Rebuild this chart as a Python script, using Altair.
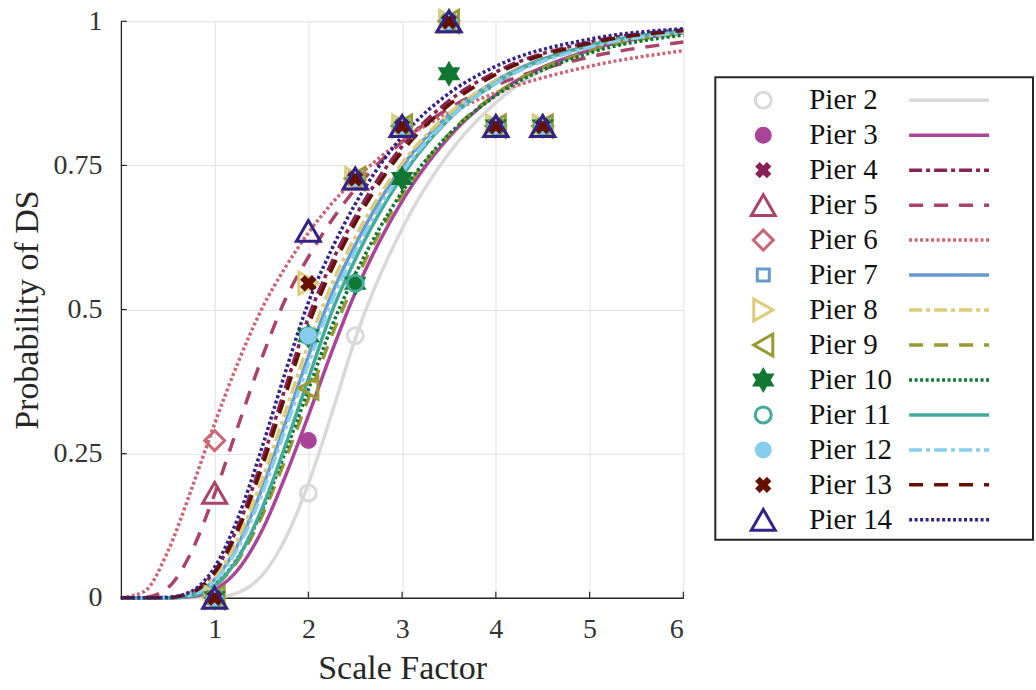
import altair as alt
import pandas as pd

PIERS = [f"Pier {i}" for i in range(2, 15)]
COLORS = ["#d9d9d9", "#aa4499", "#882255", "#aa4466", "#cc6677", "#6699cc",
          "#ddcc77", "#999933", "#117733", "#44aa99", "#88ccee", "#661100", "#332288"]

HEXAGRAM = "M0,-1L0.289,-0.5L0.866,-0.5L0.577,0L0.866,0.5L0.289,0.5L0,1L-0.289,0.5L-0.866,0.5L-0.577,0L-0.866,-0.5L-0.289,-0.5Z"
XMARK = "M-1,-0.6L-0.6,-1L0,-0.4L0.6,-1L1,-0.6L0.4,0L1,0.6L0.6,1L0,0.4L-0.6,1L-1,0.6L-0.4,0Z"
SHAPES = ["circle", "circle", XMARK, "triangle-up", "diamond", "square", "triangle-right",
          "triangle-left", HEXAGRAM, "circle", "circle", XMARK, "triangle-up"]
SIZES = [256, 196, 144, 576, 400, 144, 484, 484, 400, 256, 196, 144, 576]
FILLS = ["transparent", "#aa4499", "#882255", "transparent", "transparent", "transparent",
         "transparent", "transparent", "#117733", "transparent", "#88ccee", "#661100", "transparent"]
SOLID = [1, 0]
DASHDOT = [13, 4, 4, 4]
DASHED = [14, 11]
DOTTED = [3, 2.5]
DASHES = [SOLID, SOLID, DASHDOT, DASHED, DOTTED, SOLID, DASHDOT, DASHED, DOTTED,
          SOLID, DASHDOT, DASHED, DOTTED]

# fragility curves
SF_GRID = [0, 0.25, 0.5, 0.75, 1, 1.25, 1.5, 1.75, 2, 2.25, 2.5, 3, 3.5, 4, 5, 6]
CURVE_P2 = [0, 0, 0, 0, 0.001, 0.009, 0.038, 0.101, 0.198, 0.320, 0.449, 0.640, 0.771, 0.859, 0.949, 0.982]
CURVE_P3 = [0, 0, 0, 0.002, 0.014, 0.049, 0.115, 0.209, 0.316, 0.427, 0.529, 0.688, 0.799, 0.873, 0.950, 0.980]
CURVE_P4 = [0, 0, 0.0004, 0.009, 0.046, 0.124, 0.235, 0.362, 0.486, 0.582, 0.661, 0.783, 0.862, 0.912, 0.964, 0.985]
CURVE_P5 = [0, 0.0005, 0.017, 0.079, 0.180, 0.298, 0.414, 0.516, 0.591, 0.655, 0.709, 0.791, 0.849, 0.889, 0.938, 0.964]
CURVE_P6 = [0, 0.011, 0.080, 0.187, 0.302, 0.408, 0.500, 0.572, 0.633, 0.684, 0.726, 0.793, 0.841, 0.876, 0.922, 0.949]
CURVE_P7 = [0, 0, 0.0002, 0.0055, 0.032, 0.093, 0.187, 0.301, 0.419, 0.527, 0.612, 0.748, 0.838, 0.897, 0.958, 0.983]
CURVE_P8 = [0, 0, 0.0003, 0.0065, 0.036, 0.102, 0.202, 0.320, 0.440, 0.544, 0.626, 0.754, 0.840, 0.896, 0.956, 0.981]
CURVE_P9 = [0, 0, 0.0001, 0.003, 0.020, 0.065, 0.140, 0.238, 0.346, 0.455, 0.549, 0.699, 0.804, 0.874, 0.948, 0.979]
CURVE_P10 = [0, 0, 0.0001, 0.0036, 0.0225, 0.070, 0.149, 0.251, 0.361, 0.471, 0.561, 0.704, 0.804, 0.871, 0.945, 0.976]
CURVE_P11 = [0, 0, 0.0001, 0.003, 0.021, 0.069, 0.153, 0.262, 0.380, 0.496, 0.587, 0.731, 0.830, 0.893, 0.958, 0.983]
CURVE_P12 = [0, 0, 0.0002, 0.005, 0.0295, 0.087, 0.178, 0.290, 0.406, 0.515, 0.601, 0.738, 0.831, 0.892, 0.955, 0.981]
CURVE_P13 = [0, 0, 0.0004, 0.008, 0.043, 0.117, 0.224, 0.349, 0.472, 0.570, 0.650, 0.774, 0.855, 0.908, 0.962, 0.984]
CURVE_P14 = [0, 0, 0.0006, 0.011, 0.053, 0.139, 0.258, 0.389, 0.512, 0.605, 0.683, 0.800, 0.875, 0.922, 0.969, 0.987]
CURVES = [CURVE_P2, CURVE_P3, CURVE_P4, CURVE_P5, CURVE_P6, CURVE_P7, CURVE_P8,
          CURVE_P9, CURVE_P10, CURVE_P11, CURVE_P12, CURVE_P13, CURVE_P14]

# observed fractions of exceedance (None = not visible in the figure)
MARK_SF = [1, 2, 2.5, 3, 3.5, 4, 4.5]
MARK_P2 = [0, 0.1818, 0.4545, 0.8182, 1.0, 0.8182, 0.8182]
MARK_P3 = [0, 0.2727, 0.7273, 0.8182, 1.0, 0.8182, 0.8182]
MARK_P4 = [0, 0.5455, 0.7273, 0.8182, 1.0, 0.8182, 0.8182]
MARK_P5 = [0.1818, None, 0.7273, 0.8182, 1.0, 0.8182, 0.8182]
MARK_P6 = [0.2727, None, 0.7273, 0.8182, 1.0, 0.8182, 0.8182]
MARK_P7 = [0, 0.4545, 0.7273, 0.8182, 1.0, 0.8182, 0.8182]
MARK_P8 = [0, 0.5455, 0.7273, 0.8182, 1.0, 0.8182, 0.8182]
MARK_P9 = [0, 0.3636, 0.7273, 0.8182, 1.0, 0.8182, 0.8182]
MARK_P10 = [0, 0.4545, 0.5455, 0.7273, 0.9091, 0.8182, 0.8182]
MARK_P11 = [0, 0.4545, 0.5455, 0.8182, 1.0, 0.8182, 0.8182]
MARK_P12 = [0, 0.4545, 0.7273, 0.8182, 1.0, 0.8182, 0.8182]
MARK_P13 = [0, 0.5455, 0.7273, 0.8182, 1.0, 0.8182, 0.8182]
MARK_P14 = [0, 0.6364, 0.7273, 0.8182, 1.0, 0.8182, 0.8182]
MARKS = [MARK_P2, MARK_P3, MARK_P4, MARK_P5, MARK_P6, MARK_P7, MARK_P8,
         MARK_P9, MARK_P10, MARK_P11, MARK_P12, MARK_P13, MARK_P14]

X_TICKS = [1, 2, 3, 4, 5, 6]
Y_TICKS = [0, 0.25, 0.5, 0.75, 1]

curve_rows = []
for name, vals in zip(PIERS, CURVES):
    for x, p in zip(SF_GRID, vals):
        curve_rows.append({"pier": name, "x": x, "p": p})
curve_df = pd.DataFrame(curve_rows)

mark_rows = []
for name, vals in zip(PIERS, MARKS):
    for x, p in zip(MARK_SF, vals):
        if p is not None:
            mark_rows.append({"pier": name, "x": x, "p": p})
mark_df = pd.DataFrame(mark_rows)

W, H = 563, 577
FONT = "Liberation Serif"
TXT = "#262626"

xscale = alt.Scale(domain=[0, 6], nice=False)
yscale = alt.Scale(domain=[0, 1], nice=False)
X_AXIS = alt.Axis(values=X_TICKS, title="Scale Factor", grid=True, ticks=False,
                  labelPadding=18, titlePadding=8)
Y_AXIS = alt.Axis(values=Y_TICKS, title="Probability of DS", format=".2~f", grid=True,
                  ticks=False, labelPadding=19, titlePadding=8)

color_enc = alt.Color("pier:N", scale=alt.Scale(domain=PIERS, range=COLORS), legend=None)
stroke_enc = alt.Stroke("pier:N", scale=alt.Scale(domain=PIERS, range=COLORS), legend=None)
dash_enc = alt.StrokeDash("pier:N", scale=alt.Scale(domain=PIERS, range=DASHES), legend=None)
shape_enc = alt.Shape("pier:N", scale=alt.Scale(domain=PIERS, range=SHAPES), legend=None)
size_enc = alt.Size("pier:N", scale=alt.Scale(type="ordinal", domain=PIERS, range=SIZES), legend=None)
fill_enc = alt.Fill("pier:N", scale=alt.Scale(domain=PIERS, range=FILLS), legend=None)

lines = alt.Chart(curve_df).mark_line(interpolate="monotone", strokeWidth=3.5).encode(
    x=alt.X("x:Q", scale=xscale, axis=X_AXIS),
    y=alt.Y("p:Q", scale=yscale, axis=Y_AXIS),
    color=color_enc,
    strokeDash=dash_enc,
)

points = alt.Chart(mark_df).mark_point(opacity=1, strokeWidth=3).encode(
    x=alt.X("x:Q", scale=xscale, axis=X_AXIS),
    y=alt.Y("p:Q", scale=yscale, axis=Y_AXIS),
    shape=shape_enc,
    size=size_enc,
    stroke=stroke_enc,
    fill=fill_enc,
)

xt = alt.Chart(pd.DataFrame({"x": X_TICKS})).mark_rule(color=TXT, strokeWidth=1.2).encode(
    x=alt.X("x:Q", scale=xscale, axis=X_AXIS),
    y=alt.value(H), y2=alt.value(H - 6),
)
yt = alt.Chart(pd.DataFrame({"p": Y_TICKS})).mark_rule(color=TXT, strokeWidth=1.2).encode(
    y=alt.Y("p:Q", scale=yscale, axis=Y_AXIS),
    x=alt.value(0), x2=alt.value(6),
)

main = alt.layer(xt, yt, lines, points).properties(width=W, height=H)

# legend panel
leg_df = pd.DataFrame({"pier": PIERS})
ly = alt.Y("pier:N", scale=alt.Scale(type="point", domain=PIERS, range=[79, 499], padding=0), axis=None)
LW = 318
box = alt.Chart(pd.DataFrame({"a": [0]})).mark_rect(fill="transparent", stroke=TXT, strokeWidth=2).encode(
    x=alt.value(0), x2=alt.value(LW), y=alt.value(56), y2=alt.value(519)
)
leg_pts = alt.Chart(leg_df).mark_point(opacity=1, strokeWidth=3).encode(
    x=alt.value(48), y=ly, shape=shape_enc, size=size_enc, stroke=stroke_enc, fill=fill_enc
)
leg_txt = alt.Chart(leg_df).mark_text(align="left", baseline="middle", font=FONT,
                                      fontSize=29, color="#111111").encode(
    x=alt.value(94), y=ly, text="pier:N"
)
leg_lines = alt.Chart(leg_df).mark_rule(strokeWidth=3.5).encode(
    x=alt.value(194), x2=alt.value(274), y=ly, color=color_enc, strokeDash=dash_enc
)
legend = alt.layer(box, leg_lines, leg_pts, leg_txt).properties(width=LW, height=H)

chart = alt.hconcat(main, legend, spacing=32, bounds="flush").properties(
    padding={"left": 11, "top": 4, "right": 2, "bottom": 2},
    background="white",
).configure_view(strokeWidth=0).configure_axis(
    labelFont=FONT, titleFont=FONT, labelFontSize=28, titleFontSize=34,
    labelColor="#333333", titleColor=TXT, titleFontWeight="normal",
    domainColor=TXT, domainWidth=1.3, gridColor="#e3e3e3", gridWidth=1,
)

chart.save("out.html", embed_options={"renderer": "svg", "actions": False})
